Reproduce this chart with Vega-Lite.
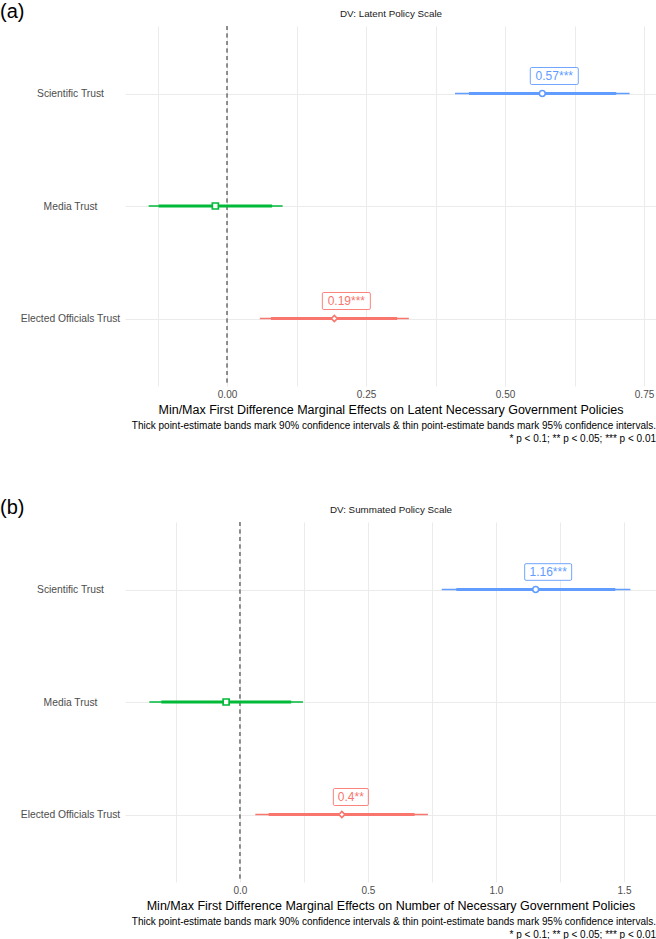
{
  "$schema": "https://vega.github.io/schema/vega-lite/v6.json",
  "padding": {"left": 0, "top": 1, "right": 0, "bottom": 0},
  "spacing": 53,
  "config": {
    "font": "Liberation Sans",
    "view": {"stroke": null},
    "title": {"font": "Liberation Sans", "fontWeight": "normal", "color": "#000000"},
    "axis": {"labelFont": "Liberation Sans", "titleFont": "Liberation Sans"}
  },
  "datasets": {
    "latent": [
      {"term": "Scientific Trust", "est": 0.567, "lo90": 0.435, "hi90": 0.700, "lo95": 0.410, "hi95": 0.724, "label": "0.57***"},
      {"term": "Media Trust", "est": -0.021, "lo90": -0.123, "hi90": 0.081, "lo95": -0.141, "hi95": 0.100, "label": ""},
      {"term": "Elected Officials Trust", "est": 0.193, "lo90": 0.079, "hi90": 0.306, "lo95": 0.059, "hi95": 0.327, "label": "0.19***"}
    ],
    "summated": [
      {"term": "Scientific Trust", "est": 1.155, "lo90": 0.845, "hi90": 1.466, "lo95": 0.788, "hi95": 1.525, "label": "1.16***"},
      {"term": "Media Trust", "est": -0.054, "lo90": -0.307, "hi90": 0.200, "lo95": -0.354, "hi95": 0.246, "label": ""},
      {"term": "Elected Officials Trust", "est": 0.398, "lo90": 0.112, "hi90": 0.682, "lo95": 0.060, "hi95": 0.734, "label": "0.4**"}
    ]
  },
  "vconcat": [
    {
      "title": {"text": "(a)", "anchor": "start", "frame": "bounds", "fontSize": 20, "offset": -13},
      "vconcat": [
        {
          "width": 531,
          "height": 360,
          "data": {"name": "latent"},
          "title": {"text": ["Thick point-estimate bands mark 90% confidence intervals & thin point-estimate bands mark 95% confidence intervals.", "* p < 0.1; ** p < 0.05; *** p < 0.01"], "orient": "bottom", "anchor": "end", "frame": "group", "align": "right", "fontSize": 10, "lineHeight": 13, "offset": 5},
          "resolve": {"axis": {"x": "independent"}},
          "layer": [
            {
              "mark": {"type": "rule", "strokeDash": [4, 3.5], "color": "#7F7F7F", "strokeWidth": 1},
              "encoding": {
                "x": {"datum": 0, "type": "quantitative", "axis": {"orient": "top", "title": "DV: Latent Policy Scale", "labels": false, "ticks": false, "domain": false, "grid": false, "titleFontSize": 9.8, "titleFontWeight": "normal", "titleColor": "#1A1A1A", "titlePadding": 7.5}}
              }
            },
            {
              "mark": {"type": "rule", "strokeWidth": 1.5},
              "encoding": {
                "x": {"field": "lo95", "type": "quantitative", "scale": {"domain": [-0.1835, 0.7715], "nice": false, "zero": false},
                  "axis": {"orient": "bottom", "title": "Min/Max First Difference Marginal Effects on Latent Necessary Government Policies", "values": [-0.125, 0, 0.125, 0.25, 0.375, 0.5, 0.625, 0.75], "labelExpr": "abs(datum.value*4 - round(datum.value*4)) < 0.001 ? format(datum.value, '.2f') : ''", "grid": true, "gridColor": "#EBEBEB", "gridWidth": 1, "domain": false, "ticks": false, "tickSize": 0, "labelPadding": 3, "labelFontSize": 10, "labelColor": "#4D4D4D", "titleFontSize": 12.5, "titleFontWeight": "normal", "titleColor": "#000000", "titlePadding": 4}},
                "x2": {"field": "hi95"},
                "y": {"field": "term", "type": "nominal", "sort": ["Scientific Trust", "Media Trust", "Elected Officials Trust"], "scale": {"type": "point", "padding": 0.6},
                  "axis": {"title": null, "labelFontSize": 10.3, "labelColor": "#4D4D4D", "labelAlign": "center", "labelPadding": 55, "ticks": false, "tickSize": 0, "domain": false, "grid": true, "gridColor": "#EBEBEB", "gridWidth": 1, "minExtent": 125, "maxExtent": 125}},
                "color": {"field": "term", "type": "nominal", "scale": {"domain": ["Elected Officials Trust", "Media Trust", "Scientific Trust"], "range": ["#F8766D", "#00BA38", "#619CFF"]}, "legend": null}
              }
            },
            {
              "mark": {"type": "rule", "strokeWidth": 3.2},
              "encoding": {
                "x": {"field": "lo90", "type": "quantitative", "axis": null},
                "x2": {"field": "hi90"},
                "y": {"field": "term", "type": "nominal", "sort": ["Scientific Trust", "Media Trust", "Elected Officials Trust"]},
                "color": {"field": "term", "type": "nominal", "legend": null}
              }
            },
            {
              "mark": {"type": "point", "fill": "white", "fillOpacity": 1, "opacity": 1, "strokeWidth": 1.7, "size": 36},
              "encoding": {
                "x": {"field": "est", "type": "quantitative", "axis": null},
                "y": {"field": "term", "type": "nominal", "sort": ["Scientific Trust", "Media Trust", "Elected Officials Trust"]},
                "stroke": {"field": "term", "type": "nominal", "scale": {"domain": ["Elected Officials Trust", "Media Trust", "Scientific Trust"], "range": ["#F8766D", "#00BA38", "#619CFF"]}, "legend": null},
                "shape": {"field": "term", "type": "nominal", "scale": {"domain": ["Elected Officials Trust", "Media Trust", "Scientific Trust"], "range": ["diamond", "square", "circle"]}, "legend": null}
              }
            },
            {
              "transform": [{"filter": "length(datum.label) == 7"}],
              "mark": {"type": "point", "shape": "M-0.94,-0.354 H0.94 Q1,-0.354 1,-0.3 V0.3 Q1,0.354 0.94,0.354 H-0.94 Q-1,0.354 -1,0.3 V-0.3 Q-1,-0.354 -0.94,-0.354 Z", "size": 2304, "fill": "white", "fillOpacity": 1, "opacity": 1, "strokeWidth": 0.9, "xOffset": 12, "yOffset": -17.5},
              "encoding": {
                "x": {"field": "est", "type": "quantitative", "axis": null},
                "y": {"field": "term", "type": "nominal", "sort": ["Scientific Trust", "Media Trust", "Elected Officials Trust"]},
                "stroke": {"field": "term", "type": "nominal", "legend": null}
              }
            },
            {
              "transform": [{"filter": "length(datum.label) == 7"}],
              "mark": {"type": "text", "fontSize": 12, "dx": 12, "dy": -17.5, "align": "center", "baseline": "middle"},
              "encoding": {
                "x": {"field": "est", "type": "quantitative", "axis": null},
                "y": {"field": "term", "type": "nominal", "sort": ["Scientific Trust", "Media Trust", "Elected Officials Trust"]},
                "text": {"field": "label"},
                "color": {"field": "term", "type": "nominal", "legend": null}
              }
            }
          ]
        }
      ]
    },
    {
      "title": {"text": "(b)", "anchor": "start", "frame": "bounds", "fontSize": 20, "offset": -13},
      "vconcat": [
        {
          "width": 531,
          "height": 360,
          "data": {"name": "summated"},
          "title": {"text": ["Thick point-estimate bands mark 90% confidence intervals & thin point-estimate bands mark 95% confidence intervals.", "* p < 0.1; ** p < 0.05; *** p < 0.01"], "orient": "bottom", "anchor": "end", "frame": "group", "align": "right", "fontSize": 10, "lineHeight": 13, "offset": 5},
          "resolve": {"axis": {"x": "independent"}},
          "layer": [
            {
              "mark": {"type": "rule", "strokeDash": [4, 3.5], "color": "#7F7F7F", "strokeWidth": 1},
              "encoding": {
                "x": {"datum": 0, "type": "quantitative", "axis": {"orient": "top", "title": "DV: Summated Policy Scale", "labels": false, "ticks": false, "domain": false, "grid": false, "titleFontSize": 9.8, "titleFontWeight": "normal", "titleColor": "#1A1A1A", "titlePadding": 7.5}}
              }
            },
            {
              "mark": {"type": "rule", "strokeWidth": 1.5},
              "encoding": {
                "x": {"field": "lo95", "type": "quantitative", "scale": {"domain": [-0.449, 1.625], "nice": false, "zero": false},
                  "axis": {"orient": "bottom", "title": "Min/Max First Difference Marginal Effects on Number of Necessary Government Policies", "values": [-0.25, 0, 0.25, 0.5, 0.75, 1, 1.25, 1.5], "labelExpr": "abs(datum.value*2 - round(datum.value*2)) < 0.001 ? format(datum.value, '.1f') : ''", "grid": true, "gridColor": "#EBEBEB", "gridWidth": 1, "domain": false, "ticks": false, "tickSize": 0, "labelPadding": 3, "labelFontSize": 10, "labelColor": "#4D4D4D", "titleFontSize": 12.5, "titleFontWeight": "normal", "titleColor": "#000000", "titlePadding": 4}},
                "x2": {"field": "hi95"},
                "y": {"field": "term", "type": "nominal", "sort": ["Scientific Trust", "Media Trust", "Elected Officials Trust"], "scale": {"type": "point", "padding": 0.6},
                  "axis": {"title": null, "labelFontSize": 10.3, "labelColor": "#4D4D4D", "labelAlign": "center", "labelPadding": 55, "ticks": false, "tickSize": 0, "domain": false, "grid": true, "gridColor": "#EBEBEB", "gridWidth": 1, "minExtent": 125, "maxExtent": 125}},
                "color": {"field": "term", "type": "nominal", "scale": {"domain": ["Elected Officials Trust", "Media Trust", "Scientific Trust"], "range": ["#F8766D", "#00BA38", "#619CFF"]}, "legend": null}
              }
            },
            {
              "mark": {"type": "rule", "strokeWidth": 3.2},
              "encoding": {
                "x": {"field": "lo90", "type": "quantitative", "axis": null},
                "x2": {"field": "hi90"},
                "y": {"field": "term", "type": "nominal", "sort": ["Scientific Trust", "Media Trust", "Elected Officials Trust"]},
                "color": {"field": "term", "type": "nominal", "legend": null}
              }
            },
            {
              "mark": {"type": "point", "fill": "white", "fillOpacity": 1, "opacity": 1, "strokeWidth": 1.7, "size": 36},
              "encoding": {
                "x": {"field": "est", "type": "quantitative", "axis": null},
                "y": {"field": "term", "type": "nominal", "sort": ["Scientific Trust", "Media Trust", "Elected Officials Trust"]},
                "stroke": {"field": "term", "type": "nominal", "scale": {"domain": ["Elected Officials Trust", "Media Trust", "Scientific Trust"], "range": ["#F8766D", "#00BA38", "#619CFF"]}, "legend": null},
                "shape": {"field": "term", "type": "nominal", "scale": {"domain": ["Elected Officials Trust", "Media Trust", "Scientific Trust"], "range": ["diamond", "square", "circle"]}, "legend": null}
              }
            },
            {
              "transform": [{"filter": "length(datum.label) == 7"}],
              "mark": {"type": "point", "shape": "M-0.94,-0.354 H0.94 Q1,-0.354 1,-0.3 V0.3 Q1,0.354 0.94,0.354 H-0.94 Q-1,0.354 -1,0.3 V-0.3 Q-1,-0.354 -0.94,-0.354 Z", "size": 2209, "fill": "white", "fillOpacity": 1, "opacity": 1, "strokeWidth": 0.9, "xOffset": 12.5, "yOffset": -17.5},
              "encoding": {
                "x": {"field": "est", "type": "quantitative", "axis": null},
                "y": {"field": "term", "type": "nominal", "sort": ["Scientific Trust", "Media Trust", "Elected Officials Trust"]},
                "stroke": {"field": "term", "type": "nominal", "legend": null}
              }
            },
            {
              "transform": [{"filter": "length(datum.label) == 7"}],
              "mark": {"type": "text", "fontSize": 12, "dx": 12.5, "dy": -17.5, "align": "center", "baseline": "middle"},
              "encoding": {
                "x": {"field": "est", "type": "quantitative", "axis": null},
                "y": {"field": "term", "type": "nominal", "sort": ["Scientific Trust", "Media Trust", "Elected Officials Trust"]},
                "text": {"field": "label"},
                "color": {"field": "term", "type": "nominal", "legend": null}
              }
            },
            {
              "transform": [{"filter": "length(datum.label) == 5"}],
              "mark": {"type": "point", "shape": "M-0.92,-0.486 H0.92 Q1,-0.486 1,-0.41 V0.41 Q1,0.486 0.92,0.486 H-0.92 Q-1,0.486 -1,0.41 V-0.41 Q-1,-0.486 -0.92,-0.486 Z", "size": 1225, "fill": "white", "fillOpacity": 1, "opacity": 1, "strokeWidth": 0.9, "xOffset": 9, "yOffset": -17.5},
              "encoding": {
                "x": {"field": "est", "type": "quantitative", "axis": null},
                "y": {"field": "term", "type": "nominal", "sort": ["Scientific Trust", "Media Trust", "Elected Officials Trust"]},
                "stroke": {"field": "term", "type": "nominal", "legend": null}
              }
            },
            {
              "transform": [{"filter": "length(datum.label) == 5"}],
              "mark": {"type": "text", "fontSize": 12, "dx": 9, "dy": -17.5, "align": "center", "baseline": "middle"},
              "encoding": {
                "x": {"field": "est", "type": "quantitative", "axis": null},
                "y": {"field": "term", "type": "nominal", "sort": ["Scientific Trust", "Media Trust", "Elected Officials Trust"]},
                "text": {"field": "label"},
                "color": {"field": "term", "type": "nominal", "legend": null}
              }
            }
          ]
        }
      ]
    }
  ]
}
